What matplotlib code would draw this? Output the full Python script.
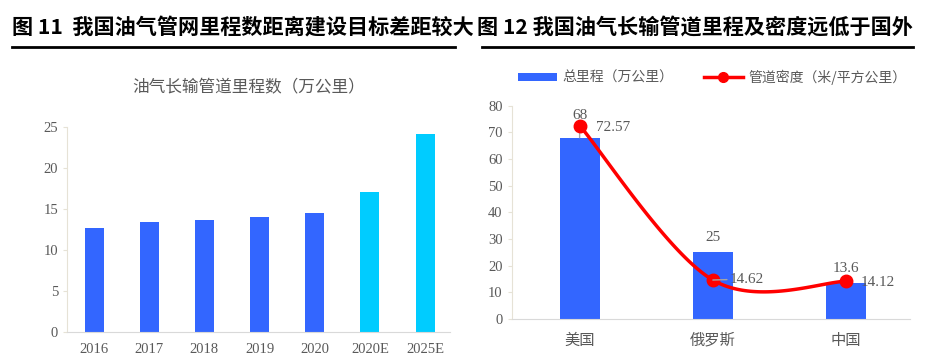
import matplotlib
matplotlib.use("Agg")
import matplotlib.pyplot as plt
import numpy as np
from matplotlib.lines import Line2D
from matplotlib.patches import Patch

# ---- data ----
years = ["2016", "2017", "2018", "2019", "2020", "2020E", "2025E"]
mileage = [12.7, 13.4, 13.6, 13.95, 14.5, 17.0, 24.1]
is_estimate = [False, False, False, False, False, True, True]

countries = ["美国", "俄罗斯", "中国"]
total_km = [68, 25, 13.6]
density = [72.57, 14.62, 14.12]

title_left = "图 11  我国油气管网里程数距离建设目标差距较大"
title_right = "图 12 我国油气长输管道里程及密度远低于国外"
sub_left = "油气长输管道里程数（万公里）"
leg_bar = "总里程（万公里）"
leg_line = "管道密度（米/平方公里）"

BLUE = "#3366FF"
CYAN = "#00CCFF"
RED = "#FF0000"
GRAY = "#595959"
SERIF = "Liberation Serif"
CJK = ["Noto Sans CJK SC", "DejaVu Sans"]

plt.rcParams['font.family'] = CJK

fig = plt.figure(figsize=(9.25, 3.62), dpi=100)

# header titles
fig.text(12/925, 1 - 27/362, title_left, fontsize=15.2, fontweight="bold",
         va="center", ha="left", color="black")
fig.text(477/925, 1 - 27/362, title_right, fontsize=15.2, fontweight="bold",
         va="center", ha="left", color="black")
fig.add_artist(Line2D([12/925, 455/925], [1 - 47/362]*2, color="black", lw=2))
fig.add_artist(Line2D([482/925, 913/925], [1 - 47/362]*2, color="black", lw=2))

def style_axes(ax):
    for s in ["top", "right"]:
        ax.spines[s].set_visible(False)
    ax.spines["left"].set_color("#E6E2D6")
    ax.spines["bottom"].set_color("#D9D9D9")
    ax.tick_params(axis="y", length=3, color="#E6E2D6", labelcolor=GRAY, labelsize=10.5)
    ax.tick_params(axis="x", length=0, labelcolor=GRAY)
    for lab in ax.get_yticklabels():
        lab.set_fontfamily(SERIF)

# ---- left chart ----
axL = fig.add_axes([67/925, 1 - 331.7/362, (450 - 67)/925, (331.7 - 126.7)/362])
x = np.arange(len(years))
colors = [CYAN if e else BLUE for e in is_estimate]
axL.bar(x, mileage, width=0.345, color=colors)
axL.set_ylim(0, 25)
axL.set_xlim(-0.49, 6.45)
axL.set_yticks([0, 5, 10, 15, 20, 25])
axL.set_xticks(x)
axL.set_xticklabels(years, fontfamily=SERIF, fontsize=10.5)
style_axes(axL)
axL.tick_params(axis="x", pad=8)
fig.text(249/925, 1 - 88/362, sub_left, fontsize=12, color=GRAY, ha="center", va="center")

# ---- right chart ----
axR = fig.add_axes([511.7/925, 1 - 319/362, (910 - 511.7)/925, (319 - 105.7)/362])
xc = np.arange(len(countries))
axR.bar(xc, total_km, width=0.3, color=BLUE)

# Smoothed line (Bezier through data points, Excel-style)
pts = np.column_stack([xc.astype(float), np.array(density, dtype=float)])
n = len(pts)
curve = []
for i in range(n - 1):
    p0 = pts[i]; p3 = pts[i + 1]
    prev = pts[i - 1] if i > 0 else pts[i]
    nxt = pts[i + 2] if i + 2 < n else pts[i + 1]
    c1 = p0 + (p3 - prev) / 6.0
    c2 = p3 - (nxt - p0) / 6.0
    t = np.linspace(0, 1, 60)[:, None]
    seg = (1 - t)**3 * p0 + 3 * t * (1 - t)**2 * c1 + 3 * t**2 * (1 - t) * c2 + t**3 * p3
    curve.append(seg)
curve = np.vstack(curve)
axR.plot(curve[:, 0], curve[:, 1], color=RED, lw=2.5, zorder=3)
axR.plot(xc, density, "o", color=RED, ms=9, zorder=4)

axR.set_ylim(0, 80)
axR.set_xlim(-0.51, 2.48)
axR.set_yticks(range(0, 81, 10))
axR.set_xticks(xc)
axR.set_xticklabels(countries, fontsize=11)
style_axes(axR)
axR.tick_params(axis="x", pad=9)

LEADER = dict(arrowstyle="-", color="#A6A6A6", lw=1, shrinkA=0, shrinkB=0)

# bar labels
bar_offsets = [(0, 22), (0, 15), (0, 14)]
for i, v in enumerate(total_km):
    txt = f"{v:g}"
    axR.annotate(txt, xy=(xc[i], v), xytext=bar_offsets[i], textcoords="offset pixels",
                 ha="center", va="center", fontfamily=SERIF, fontsize=11, color=GRAY,
                 arrowprops=LEADER if i == 0 else None, zorder=2)
# line labels
line_offsets = [(33, -2), (34, 1), (32, -1)]
for i, v in enumerate(density):
    axR.annotate(f"{v:.2f}", xy=(xc[i], v), xytext=line_offsets[i], textcoords="offset pixels",
                 ha="center", va="center", fontfamily=SERIF, fontsize=11, color=GRAY, zorder=5,
                 arrowprops=LEADER if i == 1 else None)

# legend
handles = [Patch(facecolor=BLUE, edgecolor="none"),
           Line2D([0], [0], color=RED, lw=2.5, marker="o", ms=7)]
leg = fig.legend(handles, [leg_bar, leg_line], loc="center", ncol=2,
                 bbox_to_anchor=(712/925, 1 - 77/362), frameon=False,
                 fontsize=10, labelcolor=GRAY, handlelength=2.8, handleheight=0.5,
                 columnspacing=2.2, handletextpad=0.4)

fig.savefig("out.png", dpi=100)
